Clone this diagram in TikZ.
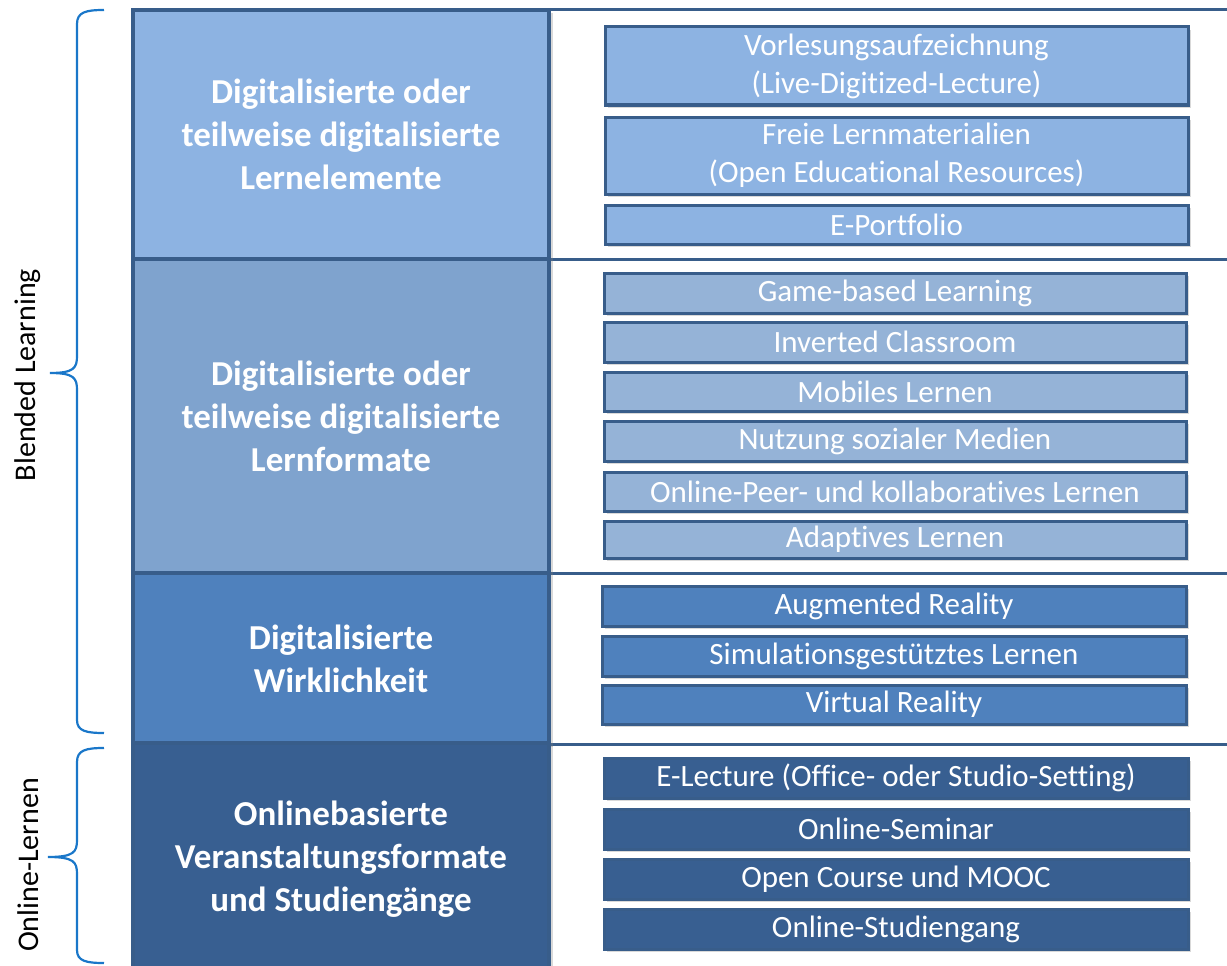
\documentclass[tikz,border=0pt]{standalone}
\usepackage{fontspec}
\setmainfont{Carlito}[Ligatures=CommonOff]
\usetikzlibrary{shadows}
\definecolor{cA}{HTML}{8DB3E2}
\definecolor{cBl}{HTML}{7FA3CE}
\definecolor{cBi}{HTML}{95B3D7}
\definecolor{cC}{HTML}{4F81BD}
\definecolor{cD}{HTML}{385F91}
\definecolor{edge}{HTML}{385D8A}
\definecolor{bracecol}{HTML}{1A77C9}
\begin{document}
\begin{tikzpicture}[x=1pt,y=-1pt,
  lbox/.style={draw=edge, line width=3.5pt, minimum width=416pt, inner sep=0pt,
    text=white, align=center, font=\bfseries\fontsize{35}{43}\selectfont,
    drop shadow={shadow xshift=4pt, shadow yshift=-3pt, opacity=0.3}},
  item/.style={draw=edge, line width=3pt, inner sep=0pt, text=white, align=center,
    font=\fontsize{31}{38}\selectfont,
    drop shadow={shadow xshift=3pt, shadow yshift=-3pt, opacity=0.3}},
  panel/.style={draw=edge, line width=3pt},
  brace/.style={draw=bracecol, line width=2.2pt},
  side/.style={rotate=90, font=\fontsize{30}{34}\selectfont, text=black}]
\useasboundingbox (0,0) rectangle (1227,966);
% right panels lines
\draw[panel] (549,10) -- (1230,10);
\draw[panel] (549,259) -- (1230,259);
\draw[panel] (549,573) -- (1230,573);
\draw[panel] (549,744) -- (1230,744);
% left column
\node[lbox, fill=cA, minimum height=249pt] (l1) at (341,134.5) {Digitalisierte oder\\teilweise digitalisierte\\Lernelemente};
\node[lbox, fill=cBl, minimum height=314pt] (l2) at (341,416) {Digitalisierte oder\\teilweise digitalisierte\\Lernformate};
\node[lbox, fill=cC, minimum height=171pt] (l3) at (341,658.5) {Digitalisierte\\Wirklichkeit};
\node[lbox, fill=cD, minimum height=232pt] (l4) at (341,859) {Onlinebasierte\\Veranstaltungsformate\\und Studiengänge};
% row 1 items
\node[item, fill=cA, minimum width=583pt, minimum height=78pt] (a1) at (896.5,66) {Vorlesungsaufzeichnung\\(Live-Digitized-Lecture)};
\node[item, fill=cA, minimum width=583pt, minimum height=77pt] (a2) at (896.5,155.5) {Freie Lernmaterialien\\(Open Educational Resources)};
\node[item, fill=cA, minimum width=583pt, minimum height=39pt] (a3) at (896.5,224.5) {E-Portfolio};
% row 2 items
\node[item, fill=cBi, minimum width=582pt, minimum height=40pt] (b1) at (895,293) {Game-based Learning};
\node[item, fill=cBi, minimum width=582pt, minimum height=40pt] (b2) at (895,342) {Inverted Classroom};
\node[item, fill=cBi, minimum width=582pt, minimum height=39pt] (b3) at (895,391.5) {Mobiles Lernen};
\node[item, fill=cBi, minimum width=582pt, minimum height=40pt] (b4) at (895,441) {Nutzung sozialer Medien};
\node[item, fill=cBi, minimum width=582pt, minimum height=39pt] (b5) at (895,491.5) {Online-Peer- und kollaboratives Lernen};
\node[item, fill=cBi, minimum width=582pt, minimum height=37pt] (b6) at (895,539.5) {Adaptives Lernen};
% row 3 items
\node[item, fill=cC, minimum width=584pt, minimum height=40pt] (c1) at (894,606) {Augmented Reality};
\node[item, fill=cC, minimum width=584pt, minimum height=40pt] (c2) at (894,656) {Simulationsgestütztes Lernen};
\node[item, fill=cC, minimum width=584pt, minimum height=39pt] (c3) at (894,704.5) {Virtual Reality};
% row 4 items
\node[item, fill=cD, minimum width=584pt, minimum height=40pt] (d1) at (896,778) {E-Lecture (Office- oder Studio-Setting)};
\node[item, fill=cD, minimum width=584pt, minimum height=40pt] (d2) at (896,829) {Online-Seminar};
\node[item, fill=cD, minimum width=584pt, minimum height=40pt] (d3) at (896,879) {Open Course und MOOC};
\node[item, fill=cD, minimum width=584pt, minimum height=40pt] (d4) at (896,929) {Online-Studiengang};
% braces
\coordinate (bt1) at (104,10);
\coordinate (bm1) at (50,373);
\coordinate (bb1) at (104,733);
\draw[brace] (bt1) .. controls (86,10) and (77,12) .. (77,24) -- (77,356)
  .. controls (77,368) and (74,373) .. (bm1)
  .. controls (74,373) and (77,378) .. (77,390) -- (77,720)
  .. controls (77,731) and (86,733) .. (bb1);
\coordinate (bt2) at (104,748);
\coordinate (bm2) at (48,857);
\coordinate (bb2) at (104,963);
\draw[brace] (bt2) .. controls (86,748) and (77,750) .. (77,762) -- (77,840)
  .. controls (77,852) and (74,857) .. (bm2)
  .. controls (74,857) and (77,862) .. (77,874) -- (77,950)
  .. controls (77,961) and (86,963) .. (bb2);
\node[side] (lab1) at (28,375) {Blended Learning};
\node[side] (lab2) at (28,865) {Online-Lernen};
\end{tikzpicture}
\end{document}
